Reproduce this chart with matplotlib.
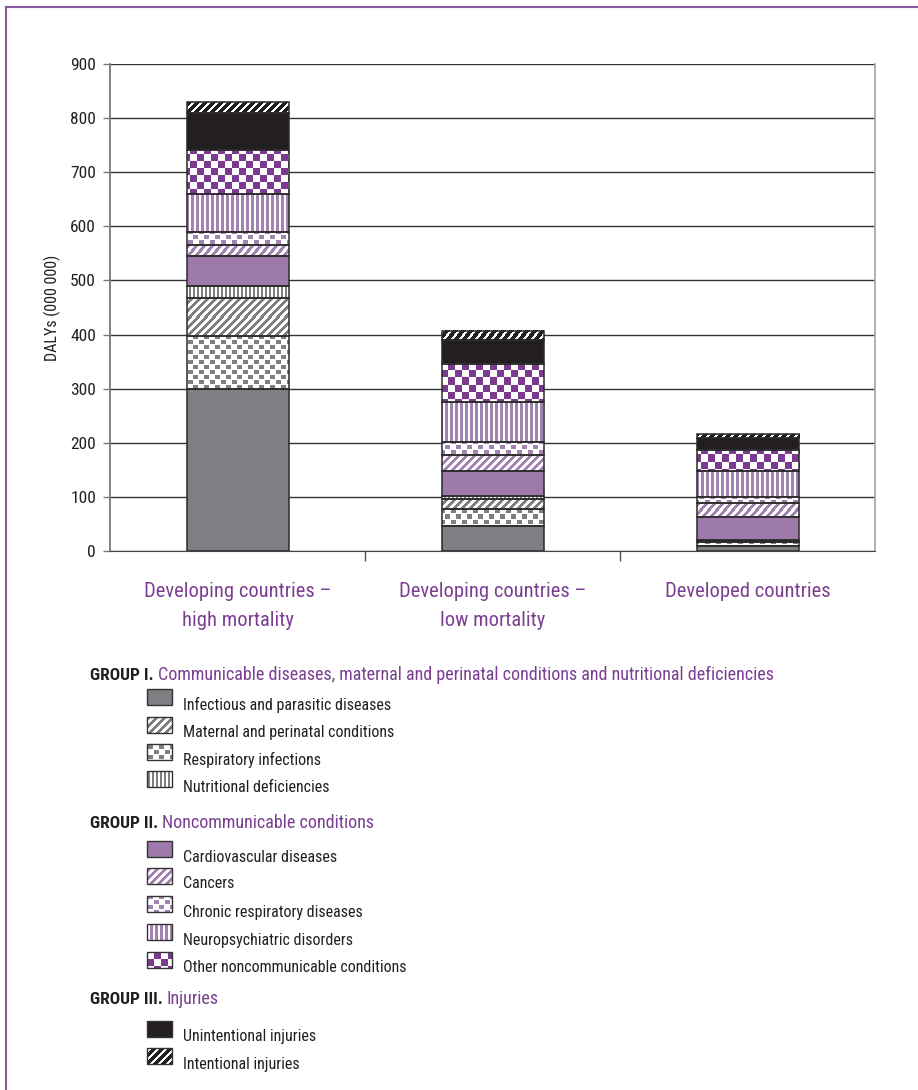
import matplotlib
matplotlib.use('Agg')
import matplotlib.pyplot as plt
import numpy as np
from matplotlib import font_manager
from matplotlib.colors import to_rgb
from matplotlib.patches import Rectangle
from matplotlib.lines import Line2D

# --- fonts: prefer a condensed sans ---
_fonts = {(f.name, f.stretch) for f in font_manager.fontManager.ttflist}
_names = {n for n, s in _fonts}
if 'Liberation Sans Narrow' in _names:
    plt.rcParams['font.family'] = ['Liberation Sans Narrow', 'DejaVu Sans']
elif 'Roboto Condensed' in _names:
    plt.rcParams['font.family'] = ['Roboto Condensed', 'DejaVu Sans']
else:
    plt.rcParams['font.family'] = ['DejaVu Sans']
    plt.rcParams['font.stretch'] = 'condensed'

# --- data (DALYs, 000 000) ---
categories = ['Developing countries –\nhigh mortality',
              'Developing countries –\nlow mortality',
              'Developed countries']

infectious = [300, 46, 9]
respiratory_inf = [97, 32, 7]
maternal = [71, 18, 3]
nutritional = [22, 6, 2]
cardiovascular = [55, 46, 42]
cancers = [21, 29, 26]
chronic_resp = [24, 24, 11]
neuropsych = [70, 74, 48]
other_nc = [81, 71, 39]
unintentional = [69, 44, 22]
intentional = [20, 17, 7]

yticks = list(range(0, 901, 100))

# stacking order, bottom to top
stack = [
    ('Infectious and parasitic diseases', infectious),
    ('Respiratory infections', respiratory_inf),
    ('Maternal and perinatal conditions', maternal),
    ('Nutritional deficiencies', nutritional),
    ('Cardiovascular diseases', cardiovascular),
    ('Cancers', cancers),
    ('Chronic respiratory diseases', chronic_resp),
    ('Neuropsychiatric disorders', neuropsych),
    ('Other noncommunicable conditions', other_nc),
    ('Unintentional injuries', unintentional),
    ('Intentional injuries', intentional),
]

legend_groups = [
    ('GROUP I.', 'Communicable diseases, maternal and perinatal conditions and nutritional deficiencies',
     ['Infectious and parasitic diseases', 'Maternal and perinatal conditions',
      'Respiratory infections', 'Nutritional deficiencies']),
    ('GROUP II.', 'Noncommunicable conditions',
     ['Cardiovascular diseases', 'Cancers', 'Chronic respiratory diseases',
      'Neuropsychiatric disorders', 'Other noncommunicable conditions']),
    ('GROUP III.', 'Injuries',
     ['Unintentional injuries', 'Intentional injuries']),
]

# --- styles ---
GRAY = '#7f7f83'
PURPLE = '#9d7aaa'
PURPLE_LT = '#a283b2'
PURPLE_DK = '#7a3a8e'
DARK = '#231f20'
TXT_PURPLE = '#7b3f92'

style = {
    'Infectious and parasitic diseases': ('solid', GRAY),
    'Respiratory infections': ('squares', GRAY),
    'Maternal and perinatal conditions': ('diag', GRAY),
    'Nutritional deficiencies': ('vfine', GRAY),
    'Cardiovascular diseases': ('solid', PURPLE),
    'Cancers': ('diag', PURPLE_LT),
    'Chronic respiratory diseases': ('squares', PURPLE_LT),
    'Neuropsychiatric disorders': ('vert', PURPLE_LT),
    'Other noncommunicable conditions': ('check', PURPLE_DK),
    'Unintentional injuries': ('solid', DARK),
    'Intentional injuries': ('diagdark', DARK),
}

W, H = 918, 1090
fig = plt.figure(figsize=(W / 100, H / 100), dpi=100)


def pattern_mask(kind, X, Y):
    if kind == 'diag':
        return ((X + Y) % 8) < 4
    if kind == 'diagdark':
        return ((X + Y) % 8) < 5
    if kind == 'vert':
        return (X % 5) < 3
    if kind == 'vfine':
        return (X % 4) < 2
    if kind == 'check':
        return ((X // 7 + Y // 7) % 2) == 0
    if kind == 'squares':
        # staggered rows of small squares
        tx, ty = X % 11, Y % 10
        row_odd = (Y // 5) % 2 == 1
        a = ~row_odd & (tx < 5) & (ty < 4)
        b = row_odd & (tx >= 5) & (tx < 10) & (ty >= 5) & (ty < 9)
        return a | b
    return np.ones_like(X, dtype=bool)


def draw_texture(ax, x0, y0, w, h, kind, color, z):
    p0 = ax.transData.transform((x0, y0))
    p1 = ax.transData.transform((x0 + w, y0 + h))
    xa, xb = sorted([p0[0], p1[0]])
    ya, yb = sorted([p0[1], p1[1]])
    xs = np.arange(int(round(xa)), max(int(round(xb)), int(round(xa)) + 1))
    ys = np.arange(int(round(H - yb)), max(int(round(H - ya)), int(round(H - yb)) + 1))
    X, Y = np.meshgrid(xs, ys)
    m = pattern_mask(kind, X, Y)
    rgb = np.ones(m.shape + (3,))
    rgb[m] = to_rgb(color)
    if p0[1] > p1[1]:
        top, bot = y0, y0 + h
    else:
        top, bot = y0 + h, y0
    ax.imshow(rgb, extent=(x0, x0 + w, bot, top), origin='upper',
              aspect='auto', interpolation='nearest', zorder=z)


# --- main chart ---
ax = fig.add_axes([110 / W, 1 - 551 / H, 765 / W, 487 / H])
ax.set_xlim(-0.5, 2.5)
ax.set_ylim(0, 900)
ax.set_autoscale_on(False)

x = np.arange(len(categories))
bottom = np.zeros(len(categories))
for name, vals in stack:
    kind, col = style[name]
    fill = ax.bar(x, vals, 0.4, bottom=bottom, color=col if kind == 'solid' else 'white',
                  edgecolor='none', zorder=2)
    if kind != 'solid':
        for r in fill.patches:
            draw_texture(ax, r.get_x(), r.get_y(), r.get_width(), r.get_height(), kind, col, 2.5)
    ax.bar(x, vals, 0.4, bottom=bottom, fill=False, edgecolor='#2a2a2a',
           linewidth=1.1, zorder=4)
    bottom += np.array(vals)

ax.set_yticks(yticks)
ax.tick_params(axis='y', length=5, width=1, color='#777777', pad=5,
               labelsize=12.5, labelcolor=DARK)
ax.set_xticks(x)
ax.set_xticklabels(categories, color=TXT_PURPLE, fontsize=14.8, linespacing=1.7)
ax.tick_params(axis='x', length=0, pad=22)
ax.set_xticks([0.5, 1.5], minor=True)
ax.tick_params(axis='x', which='minor', length=7, width=1, color='#555555')
ax.yaxis.grid(True, color='#333333', linewidth=1.0, zorder=0)
ax.set_axisbelow(True)
ax.spines['top'].set_visible(False)
ax.spines['left'].set_color('#777777')
ax.spines['left'].set_linewidth(1.3)
ax.spines['bottom'].set_color('#444444')
ax.spines['right'].set_color('#aaaaaa')
ax.spines['right'].set_linewidth(1.3)
ax.set_ylabel('DALYs (000 000)', fontsize=11.5, color=DARK)
ax.yaxis.set_label_coords(-0.064, 0.5)

# --- legend drawn on a full-figure overlay ---
lg = fig.add_axes([0, 0, 1, 1], zorder=-1)
lg.set_xlim(0, W)
lg.set_ylim(H, 0)
lg.set_autoscale_on(False)
lg.axis('off')

# purple frame
lg.add_line(Line2D([6, W], [7, 7], color='#8a5a9e', linewidth=1.5))
lg.add_line(Line2D([6, 6], [7, H], color='#8a5a9e', linewidth=1.5))

renderer = fig.canvas.get_renderer()
heading_y = [675, 823, 999]
item_y = [[705, 733, 760, 787], [857, 884, 912, 940, 968], [1037, 1064]]
for (g, title, items), hy, iys in zip(legend_groups, heading_y, item_y):
    t = lg.text(90, hy, g, fontsize=12.5, fontweight='bold', color=DARK, va='center')
    bb = t.get_window_extent(renderer=renderer)
    lg.text(bb.x1 + 4, hy, title, fontsize=13, color=TXT_PURPLE, va='center')
    for name, iy in zip(items, iys):
        kind, col = style[name]
        sx, sy, sw, sh = 147, iy - 16, 25, 16
        lg.add_patch(Rectangle((sx, sy), sw, sh, facecolor=col if kind == 'solid' else 'white',
                               edgecolor='none', zorder=2))
        if kind != 'solid':
            draw_texture(lg, sx, sy, sw, sh, kind, col, 2.5)
        lg.add_patch(Rectangle((sx, sy), sw, sh, fill=False, edgecolor='#333333',
                               linewidth=1.0, zorder=4))
        lg.text(183, iy, name, fontsize=11.5, color=DARK, va='center')

fig.savefig('out.png', dpi=100)
